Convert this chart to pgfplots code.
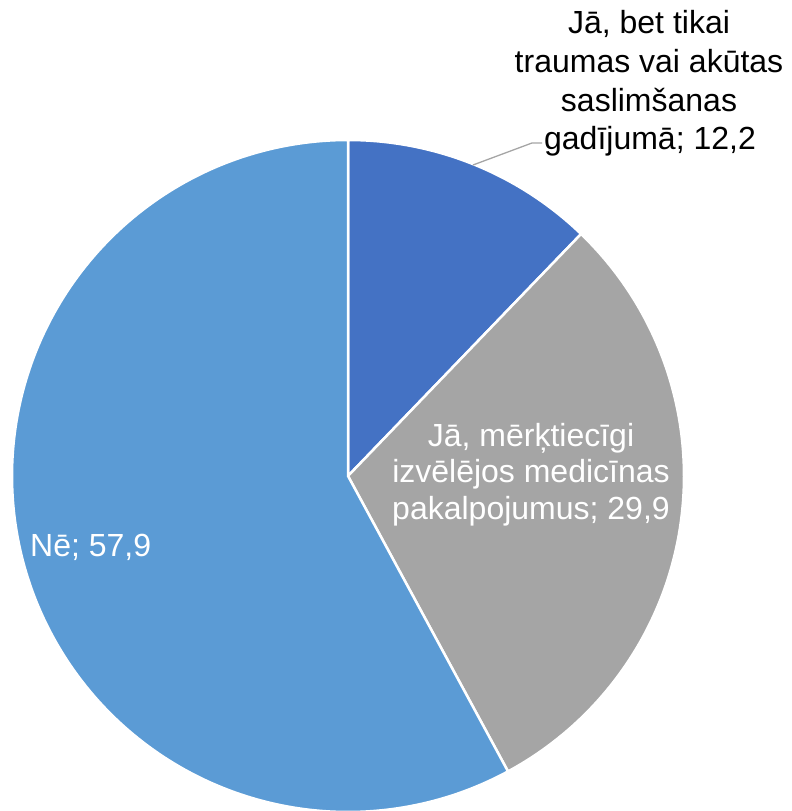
\documentclass[border=0pt]{standalone}
\usepackage{pgfplots}
\usepackage{pgfplotstable}
\pgfplotsset{compat=1.18}
\usepackage{fontspec}
\setmainfont{Liberation Sans}
\definecolor{sliceA}{RGB}{68,114,196}
\definecolor{sliceB}{RGB}{165,165,165}
\definecolor{sliceC}{RGB}{91,155,213}

% shares in percent, clockwise from the top
\pgfplotstableread{
share
12.2
29.9
57.9
}\piedata
\pgfplotstablegetelem{0}{share}\of\piedata \let\va\pgfplotsretval
\pgfplotstablegetelem{1}{share}\of\piedata \let\vb\pgfplotsretval
\pgfplotstablegetelem{2}{share}\of\piedata \let\vc\pgfplotsretval
\pgfmathsetmacro{\aA}{90}
\pgfmathsetmacro{\aB}{\aA-3.6*\va}
\pgfmathsetmacro{\aC}{\aB-3.6*\vb}
\pgfmathsetmacro{\aD}{\aC-3.6*\vc}
\newcommand{\lbl}{\fontsize{32}{38}\selectfont}

\begin{document}
\begin{tikzpicture}
\begin{axis}[
  width=792pt, height=811pt, scale only axis,
  xmin=0, xmax=792, ymin=0, ymax=811,
  hide axis, clip=false,
]
\addplot[fill=sliceA, draw=white, line width=2.5pt, domain=\aB:\aA, samples=80]
  ({348+336*cos(x)},{335+336*sin(x)}) -- (axis cs:348,335) -- cycle;
\addplot[fill=sliceB, draw=white, line width=2.5pt, domain=\aC:\aB, samples=120]
  ({348+336*cos(x)},{335+336*sin(x)}) -- (axis cs:348,335) -- cycle;
\addplot[fill=sliceC, draw=white, line width=2.5pt, domain=\aD:\aC, samples=200]
  ({348+336*cos(x)},{335+336*sin(x)}) -- (axis cs:348,335) -- cycle;

% leader line
\addplot[color=sliceB, line width=1.3pt] coordinates {(473,646) (532,668) (542,668)};

\node[anchor=base, font=\lbl] at (axis cs:649,777) {Jā, bet tikai};
\node[anchor=base, font=\lbl] at (axis cs:649,738) {traumas vai akūtas};
\node[anchor=base, font=\lbl] at (axis cs:649,699) {saslimšanas};
\node[anchor=base, font=\lbl] at (axis cs:650,661) {gadījumā; 12,2};

\node[anchor=base, white, font=\lbl] at (axis cs:531,364) {Jā, mērķtiecīgi};
\node[anchor=base, white, font=\lbl] at (axis cs:531,328) {izvēlējos medicīnas};
\node[anchor=base, white, font=\lbl] at (axis cs:531,291) {pakalpojumus; 29,9};

\node[anchor=base west, white, inner sep=0pt, font=\lbl] at (axis cs:30,254) {Nē; 57,9};
\end{axis}
\pgfresetboundingbox
\path (0,0) rectangle (792pt,811pt);
\end{tikzpicture}
\end{document}
